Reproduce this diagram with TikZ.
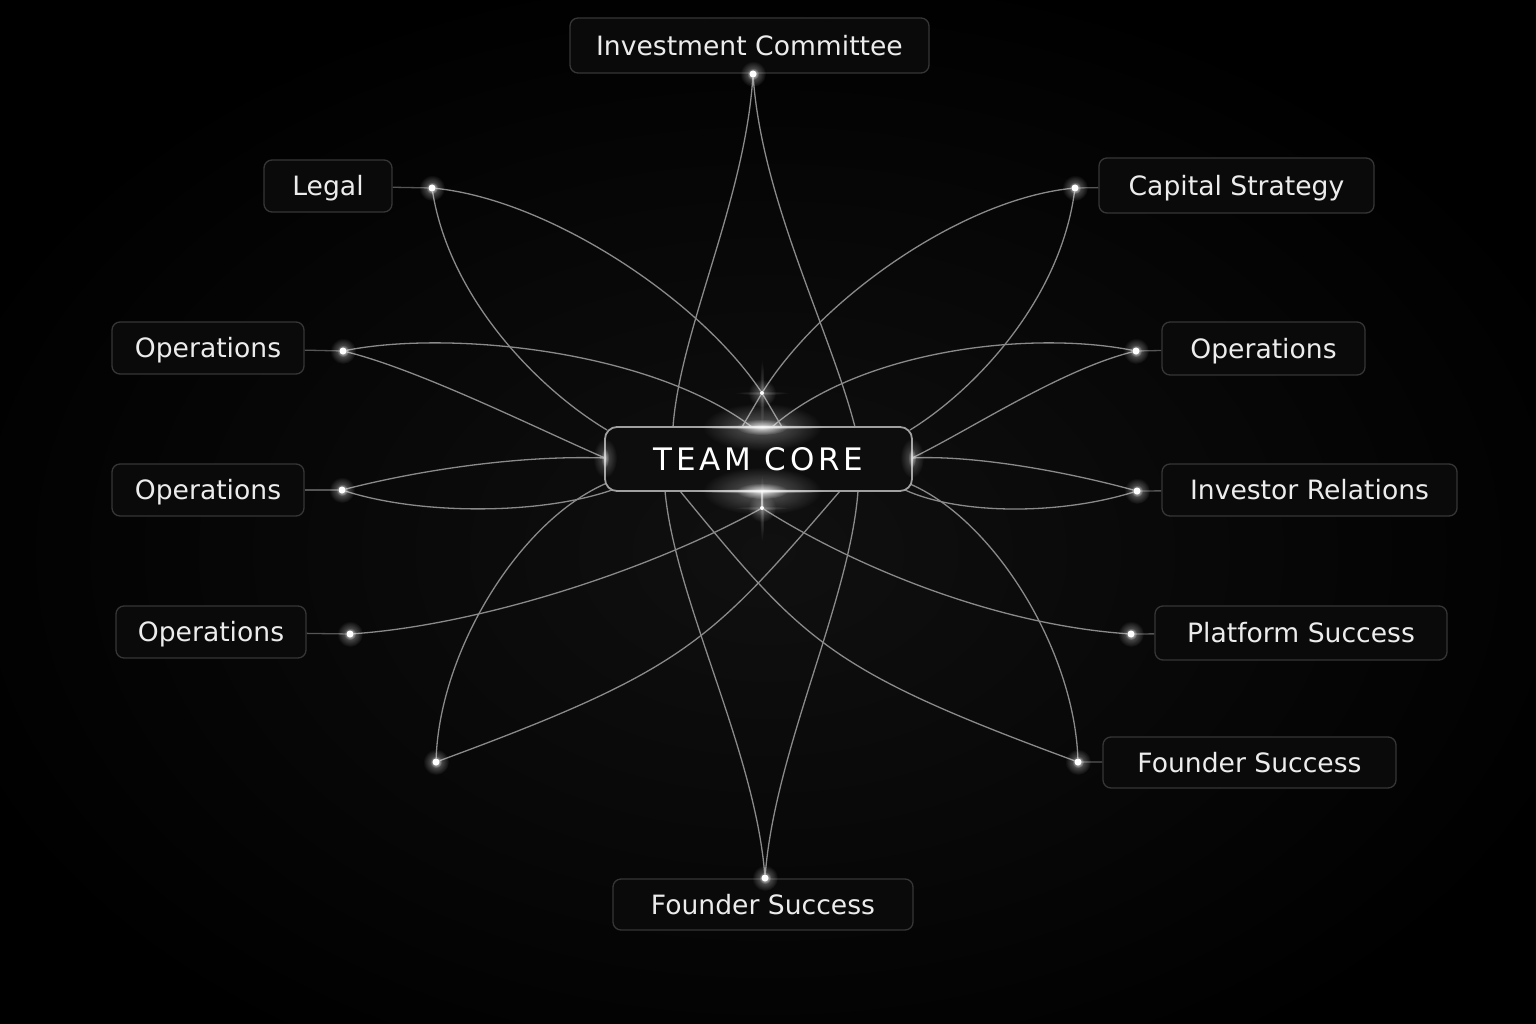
\documentclass[tikz,border=0pt]{standalone}
\usepackage{fontspec}
\usetikzlibrary{fadings}
\setmainfont{DejaVu Sans}
\newfontfamily\corefont[LetterSpace=12]{DejaVu Sans}
\pgfdeclarelayer{bg}
\pgfdeclarelayer{wires}
\pgfdeclarelayer{fx}
\pgfsetlayers{bg,wires,main,fx}
\definecolor{boxfill}{HTML}{0A0A0A}
\definecolor{boxline}{HTML}{363636}
\definecolor{txt}{HTML}{ECECEC}
\definecolor{wirec}{HTML}{8A8A8A}
\definecolor{stubc}{HTML}{555555}
\definecolor{corefill}{HTML}{0D0D0D}
\definecolor{coreline}{HTML}{A0A0A0}
\definecolor{bgin}{HTML}{101010}
\tikzfading[name=glowfade, inner color=transparent!0, outer color=transparent!100]
\tikzset{
  lbl/.style={draw=boxline, line width=1.3pt, fill=boxfill, rounded corners=8pt, text=txt, inner sep=0pt, text height=19.5pt, text depth=0pt, font=\fontsize{26.6}{30}\selectfont},
  corebox/.style={draw=coreline, line width=1.8pt, fill=corefill, rounded corners=12pt, text=white, inner sep=0pt, minimum width=307pt, minimum height=64pt, font=\corefont\fontsize{31}{36}\selectfont},
  wire/.style={draw=wirec, line width=1.3pt},
  stub/.style={draw=stubc, line width=1.3pt},
  dot/.style={circle, fill=white, inner sep=0pt, minimum size=7pt},
  smalldot/.style={circle, fill=white, inner sep=0pt, minimum size=4pt},
  glow/.style={fill=white, path fading=glowfade}
}
\begin{document}
\begin{tikzpicture}[x=1pt,y=-1pt]
\useasboundingbox (0,0) rectangle (1536,1024);
\begin{pgfonlayer}{bg}
  \fill[black] (0,0) rectangle (1536,1024);
  \shade[inner color=bgin, outer color=black] (-100,-40) rectangle (1636,1144);
\end{pgfonlayer}

% boxes
\node[lbl, minimum width=359pt, minimum height=55pt] (bIC) at (749.5,45.5) {Investment Committee};
\node[lbl, minimum width=128pt, minimum height=52pt] (bLegal) at (328,186) {Legal};
\node[lbl, minimum width=275pt, minimum height=55pt] (bCap) at (1236.5,185.5) {Capital Strategy};
\node[lbl, minimum width=192pt, minimum height=52pt] (bOL1) at (208,348) {Operations};
\node[lbl, minimum width=203pt, minimum height=53pt] (bOR) at (1263.5,348.5) {Operations};
\node[lbl, minimum width=192pt, minimum height=52pt] (bOL2) at (208,490) {Operations};
\node[lbl, minimum width=295pt, minimum height=52pt] (bIR) at (1309.5,490) {Investor Relations};
\node[lbl, minimum width=190pt, minimum height=52pt] (bOL3) at (211,632) {Operations};
\node[lbl, minimum width=292pt, minimum height=54pt] (bPS) at (1301,633) {Platform Success};
\node[lbl, minimum width=293pt, minimum height=51pt] (bFSR) at (1249.5,762.5) {Founder Success};
\node[lbl, minimum width=300pt, minimum height=51pt] (bFSB) at (763,904.5) {Founder Success};
\node[corebox] (core) at (758.5,459) {TEAM CORE};

% dots
\node[dot] (dIC) at (753,74) {};
\node[dot] (dL) at (432,188) {};
\node[dot] (dC) at (1075,188) {};
\node[dot] (dOL1) at (343,351) {};
\node[dot] (dOR) at (1136,351) {};
\node[dot] (dOL2) at (342,490) {};
\node[dot] (dIR) at (1137,491) {};
\node[dot] (dOL3) at (350,634) {};
\node[dot] (dPS) at (1131,634) {};
\node[dot] (dLone) at (436,762) {};
\node[dot] (dFSR) at (1078,762) {};
\node[dot] (dFSB) at (765,878) {};
\node[smalldot] (gTop) at (762,393) {};
\node[smalldot] (gBot) at (762,508) {};

% anchor points on the core box
\coordinate (cTL) at (607,430);
\coordinate (cTR) at (910,430);
\coordinate (cTa) at (673,427);
\coordinate (cTb) at (855,427);
\coordinate (cT1) at (752,427);
\coordinate (cT2) at (772,427);
\coordinate (cTg1) at (742,427);
\coordinate (cTg2) at (782,427);
\coordinate (cTc) at (762,427);
\coordinate (cL) at (605,458);
\coordinate (cR) at (912,458);
\coordinate (cBL) at (612,490);
\coordinate (cBR) at (905,490);
\coordinate (cBL2) at (607,483);
\coordinate (cBR2) at (910,484);
\coordinate (cBa) at (665,491);
\coordinate (cBb) at (858,491);
\coordinate (cBx) at (840,491);
\coordinate (cBy) at (680,491);
\coordinate (cBc) at (762,491);

\begin{pgfonlayer}{wires}
  \draw[wire] (dIC) .. controls (745,200) and (680,330) .. (cTa);
  \draw[wire] (dIC) .. controls (762,200) and (830,330) .. (cTb);
  \draw[wire] (dFSB) .. controls (755,750) and (675,600) .. (cBa);
  \draw[wire] (dFSB) .. controls (775,750) and (850,600) .. (cBb);
  \draw[wire] (dL) .. controls (550,200) and (700,300) .. (gTop);
  \draw[wire] (dL) .. controls (450,300) and (540,390) .. (cTL);
  \draw[wire] (dC) .. controls (960,200) and (820,300) .. (gTop);
  \draw[wire] (dC) .. controls (1060,300) and (975,390) .. (cTR);
  \draw[wire] (dOL1) .. controls (450,330) and (650,350) .. (cT1);
  \draw[wire] (dOL1) .. controls (420,370) and (540,430) .. (cL);
  \draw[wire] (dOR) .. controls (1030,330) and (860,350) .. (cT2);
  \draw[wire] (dOR) .. controls (1060,370) and (970,430) .. (cR);
  \draw[wire] (dOL2) .. controls (420,470) and (520,455) .. (cL);
  \draw[wire] (dOL2) .. controls (420,515) and (540,515) .. (cBL);
  \draw[wire] (dIR) .. controls (1060,470) and (970,455) .. (cR);
  \draw[wire] (dIR) .. controls (1060,515) and (960,515) .. (cBR);
  \draw[wire] (dOL3) .. controls (480,625) and (650,570) .. (gBot);
  \draw[wire] (dPS) .. controls (1000,625) and (860,570) .. (gBot);
  \draw[wire] (dLone) .. controls (440,650) and (520,520) .. (cBL2);
  \draw[wire] (dLone) .. controls (686,670) and (710,642) .. (cBx);
  \draw[wire] (dFSR) .. controls (1074,650) and (994,520) .. (cBR2);
  \draw[wire] (dFSR) .. controls (828,670) and (804,642) .. (cBy);
  \draw[wire] (gTop) -- (cTg1);
  \draw[wire] (gTop) -- (cTg2);
  \draw[wire] (gBot) -- (cBc);
  % stubs from dots to labels
  \draw[stub] (dL) -- (bLegal);
  \draw[stub] (dC) -- (bCap);
  \draw[stub] (dOL1) -- (bOL1);
  \draw[stub] (dOR) -- (bOR);
  \draw[stub] (dOL2) -- (bOL2);
  \draw[stub] (dIR) -- (bIR);
  \draw[stub] (dOL3) -- (bOL3);
  \draw[stub] (dPS) -- (bPS);
  \draw[stub] (dFSR) -- (bFSR);
\end{pgfonlayer}

\begin{pgfonlayer}{fx}
  \foreach \g in {dIC,dL,dC,dOL1,dOR,dOL2,dIR,dOL3,dPS,dLone,dFSR,dFSB}{
    \fill[glow, opacity=0.45] (\g) circle (13pt);
    \fill[glow, opacity=0.8] (\g) circle (6pt);
  }
  \foreach \g in {gTop,gBot}{
    \fill[glow, opacity=0.35] (\g) circle (14pt);
    \fill[glow, opacity=0.25] (\g) ellipse (2.5pt and 34pt);
    \fill[glow, opacity=0.2] (\g) ellipse (28pt and 2pt);
  }
  % flares on the core box
  \foreach \p in {cTc,cBc}{
    \fill[glow, opacity=0.35] (\p) ellipse (60pt and 24pt);
    \fill[glow, opacity=0.8] (\p) ellipse (26pt and 8pt);
    \fill[glow, opacity=0.6] (\p) ellipse (70pt and 2.5pt);
  }
  \foreach \p in {cL,cR}{
    \fill[glow, opacity=0.3] (\p) ellipse (12pt and 20pt);
    \fill[glow, opacity=0.5] (\p) ellipse (4pt and 10pt);
  }
\end{pgfonlayer}
\end{tikzpicture}
\end{document}
